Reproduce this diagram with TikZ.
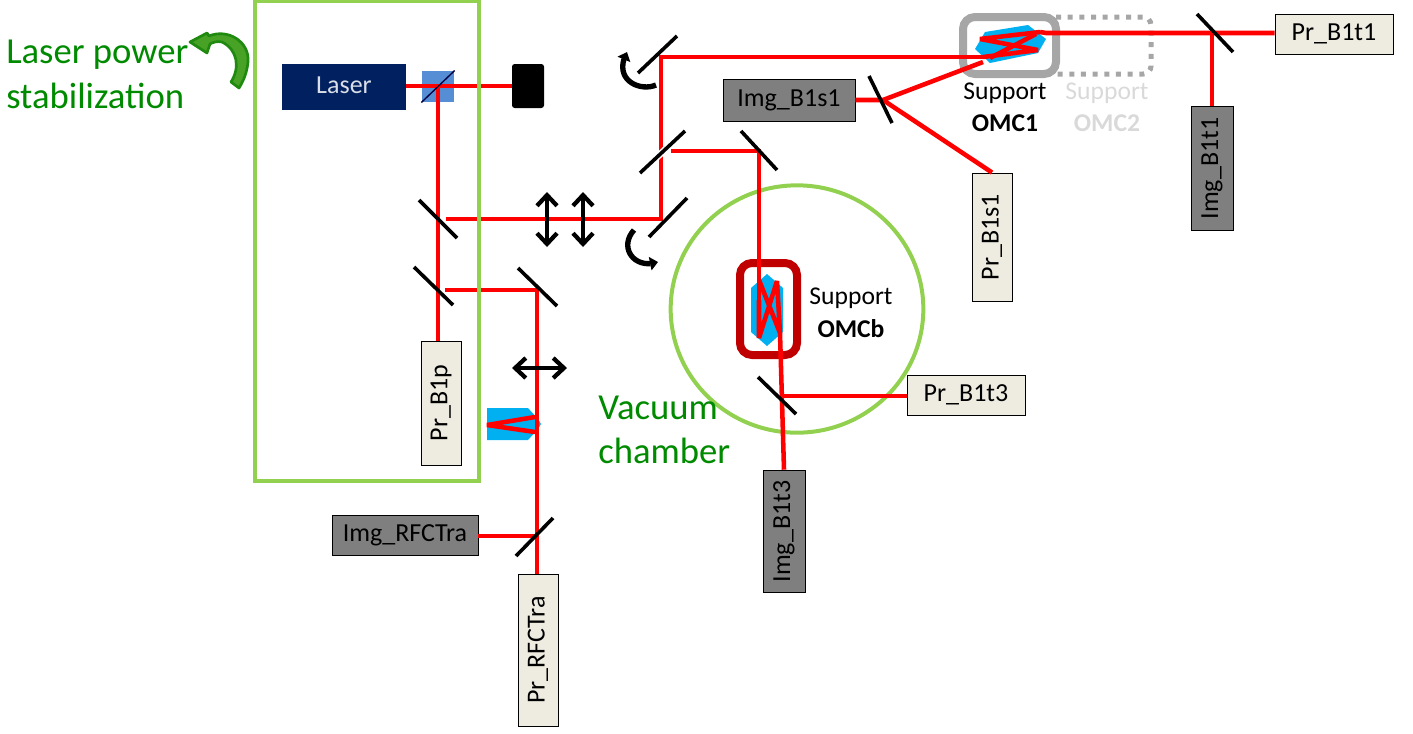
\documentclass[tikz,border=0pt]{standalone}
\usepackage{fontspec}
\setmainfont{Carlito}
\usetikzlibrary{arrows.meta,bending,shapes.geometric}
\definecolor{beam}{HTML}{FF0000}
\definecolor{lgreen}{HTML}{92D050}
\definecolor{tgreen}{HTML}{008A00}
\definecolor{dgreen}{HTML}{1F8A0F}
\definecolor{navy}{HTML}{002060}
\definecolor{cream}{HTML}{EEECE1}
\definecolor{imgray}{HTML}{7F7F7F}
\definecolor{cyanb}{HTML}{00B0F0}
\definecolor{cubeb}{HTML}{558ED5}
\definecolor{omcgray}{HTML}{A6A6A6}
\definecolor{omcred}{HTML}{C00000}
\tikzset{
 beamline/.style={draw=beam,line width=3.4pt,line join=miter},
 thinbeam/.style={draw=beam,line width=3.4pt,line join=bevel},
 mirror/.style={draw=black,line width=2.7pt},
 halo/.style={draw=white,line width=5pt},
 prbox/.style={draw=black,line width=0.7pt,fill=cream,font=\fontsize{19.5}{21}\selectfont,inner sep=0pt},
 imbox/.style={draw=black,line width=0.7pt,fill=imgray,font=\fontsize{19.5}{21}\selectfont,inner sep=0pt},
 suplabel/.style={font=\fontsize{19.2}{21}\selectfont,inner sep=0pt},
 gtext/.style={font=\fontsize{27.5}{30}\selectfont,text=tgreen,inner sep=0pt,anchor=west},
 dbl/.style={draw=black,line width=3.2pt,{Straight Barb[length=8pt,width=15pt,line width=3.2pt]}-{Straight Barb[length=8pt,width=15pt,line width=3.2pt]}},
 curv/.style={draw=black,line width=4pt,-{Triangle[length=6pt,width=10pt]}},
}
\begin{document}
\begin{tikzpicture}[x=0.75pt,y=-0.75pt]
\useasboundingbox (0,0) rectangle (1413,733);
% chamber
\node[draw=lgreen,line width=3pt,ellipse,minimum width=189.5pt,minimum height=185.5pt,inner sep=0pt] (chamber) at (797,309) {};
% boxes
\node[fill=navy,minimum width=93pt,minimum height=34.5pt,inner sep=0pt,font=\fontsize{19.5}{21}\selectfont] (laser) at (344,87) {};
\node[text=white!85!navy,font=\fontsize{19.5}{21}\selectfont,inner sep=0pt] (lasertext) at (344,85) {Laser};
\node[fill=black,rounded corners=2pt,minimum width=24pt,minimum height=33pt,inner sep=0pt] (dump) at (528,86) {};
\node[fill=cubeb,minimum width=24.5pt,minimum height=23.5pt,inner sep=0pt] (cube) at (438,86.5) {};
\node[prbox,minimum width=30pt,minimum height=93pt] (prb1p) at (441,403) {\rotatebox{90}{Pr\_B1p}};
\node[prbox,minimum width=88.5pt,minimum height=30pt] (prb1t3) at (966,395) {Pr\_B1t3};
\node[prbox,minimum width=30pt,minimum height=96pt] (prb1s1) at (992,237) {\rotatebox{90}{Pr\_B1s1}};
\node[prbox,minimum width=88.5pt,minimum height=30pt] (prb1t1) at (1334,34) {Pr\_B1t1};
\node[prbox,minimum width=30pt,minimum height=114pt] (prrfc) at (538,650) {\rotatebox{90}{Pr\_RFCTra}};
\node[imbox,minimum width=99pt,minimum height=31.5pt] (imgb1s1) at (789,100) {Img\_B1s1};
\node[imbox,minimum width=31.5pt,minimum height=93pt] (imgb1t1) at (1212,168.5) {\rotatebox{90}{Img\_B1t1}};
\node[imbox,minimum width=31.5pt,minimum height=92pt] (imgb1t3) at (784,531.5) {\rotatebox{90}{Img\_B1t3}};
\node[imbox,minimum width=109.5pt,minimum height=29.5pt] (imgrfc) at (405,535.5) {Img\_RFCTra};
% junction coordinates
\coordinate (jcube) at (438,86);
\coordinate (me) at (661,219);
\coordinate (mf) at (661,57);
\coordinate (mc) at (537,290);
\coordinate (md) at (537,536);
\coordinate (mg) at (671,151);
\coordinate (mh) at (759,151);
\coordinate (mi) at (780,396);
\coordinate (mj) at (883,100);
\coordinate (mk) at (1212,33);
\coordinate (ol) at (983,57);
\coordinate (om) at (983,62);
\coordinate (on) at (1040,32);
\coordinate (oo) at (759,300);
\coordinate (op) at (780,333);
% OMC supports
\draw[omcgray,line width=3.75pt,dash pattern=on 3.75pt off 5pt,rounded corners=6pt] (1056,17) -- (1151,17) -- (1151,74) -- (1056,74);
\draw[omcgray,line width=6pt,rounded corners=9pt,fill=white] (963,17) rectangle (1056,74);
\draw[omcred,line width=6pt,rounded corners=9pt,fill=white] (740,263) rectangle (797,355);
\fill[cyanb] (975,49)--(985,32)--(1028,25)--(1046,39)--(1038,53)--(990,63)--cycle;
\fill[cyanb] (767,274)--(783,288)--(783,332)--(767,346)--(751,332)--(751,288)--cycle;
\fill[cyanb] (487,408)--(528,408)--(538,419)--(541,424)--(538,429)--(528,440)--(487,440)--cycle;
% beams
\draw[beamline] (laser.east|-jcube)--(dump.west|-jcube);
\draw[beamline] (jcube)--(prb1p.north-|jcube);
\draw[beamline] (446,219)--(me)--(mf)--(ol);
\draw[beamline] (445,290)--(mc)--(prrfc.north-|mc);
\draw[beamline] (imgrfc.east|-md)--(md);
\draw[beamline] (mg)--(mh)--(oo);
\draw[beamline] (op)--(imgb1t3.north);
\draw[beamline] (mi)--(prb1t3.west|-mi);
\draw[beamline] (imgb1s1.east)--(mj)--(om);
\draw[beamline] (mj)--(prb1s1.north);
\draw[beamline] (on)--(1046,33)--(mk)--(prb1t1.west|-mk);
\draw[beamline] (mk)--(mk|-imgb1t1.north);
% folded paths
\draw[thinbeam] (ol)--(1038,50)--(980,39)--(on);
\draw[thinbeam] (990,58)--(1036,34);
\draw[thinbeam] (oo)--(759,338)--(777,281)--(op)--(759,280);
\draw[thinbeam] (535,417)--(487,425)--(535,432);
% cube diagonal
\draw[black!75!blue,line width=1pt] (cube.south west)--(cube.north east);
% mirrors
\draw[mirror] (419,200)--(457,238);
\draw[mirror] (414,267)--(453,305);
\draw[mirror] (518,268)--(557,306);
\draw[mirror] (516,556)--(553,518);
\draw[mirror] (638,73)--(677,36);
\draw[halo] (640,173)--(685,131);
\draw[mirror] (640,173)--(685,131);
\draw[mirror] (649,237)--(687,198);
\draw[mirror] (741,131)--(777,170);
\draw[mirror] (758,377)--(796,414);
\draw[mirror] (869,76)--(892,123);
\draw[mirror] (1197,14)--(1233,52);
% bench
\node[draw=lgreen,line width=3pt,minimum width=168.4pt,minimum height=360pt,inner sep=0pt] (bench) at (367,241) {};
% double arrows
\coordinate (aa) at (512,368); \coordinate (ab) at (567,368);
\coordinate (ac) at (547,192); \coordinate (ad) at (547,247);
\coordinate (ae) at (583,192); \coordinate (af) at (583,247);
\draw[dbl] (aa)--(ab);
\draw[dbl] (ac)--(ad);
\draw[dbl] (ae)--(af);
% curved arrows
\draw[curv] (656,85) .. controls (640,92) and (612,80) .. (627,52);
\draw[curv] (634,230) .. controls (618,248) and (635,270) .. (658,262);
% green arrow
\draw[fill=lgreen!35!dgreen,draw=dgreen,line width=2pt,line join=round] (190,42)--(207,33) -- (209,36) .. controls (228,28) and (250,42) .. (248,62) .. controls (247,72) and (244,80) .. (239,88)--(231,82) .. controls (240,68) and (238,50) .. (222,42) .. controls (218,41) and (213,42) .. (210,44)--(207,53)--cycle;
% text
\node[gtext] (t1) at (6,54.5) {Laser power};
\node[gtext] (t2) at (6,96) {stabilization};
\node[gtext] (t3) at (598,407.5) {Vacuum};
\node[gtext] (t4) at (598,451) {chamber};
\node[suplabel] (s1) at (1005,93.5) {Support};
\node[suplabel] (s2) at (1005,123.5) {\bfseries OMC1};
\node[suplabel,text=black!15] (s3) at (1107,93.5) {Support};
\node[suplabel,text=black!15] (s4) at (1107,123.5) {\bfseries OMC2};
\node[suplabel] (s5) at (851,298.5) {Support};
\node[suplabel] (s6) at (851,328.5) {\bfseries OMCb};
\end{tikzpicture}
\end{document}
